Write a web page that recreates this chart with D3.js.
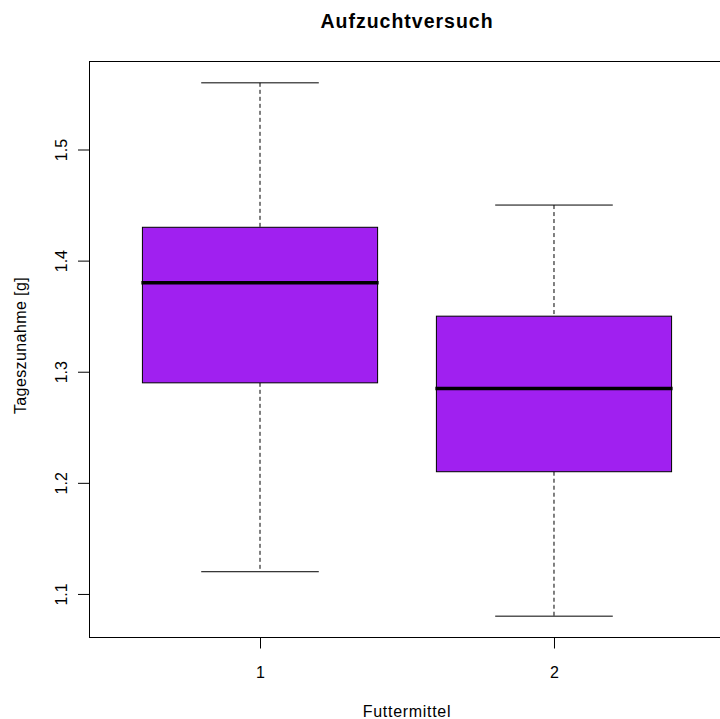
<!DOCTYPE html>
<html>
<head>
<meta charset="utf-8">
<script src="https://cdn.jsdelivr.net/npm/d3@7"></script>
<style>
  html, body { margin: 0; padding: 0; background: #fff; }
  svg { display: block; }
  text { font-family: "Liberation Sans", Arial, Helvetica, sans-serif; fill: #000; }
</style>
</head>
<body>
<svg id="chart" width="720" height="719"></svg>
<script>
// Feed groups and their five-number summaries (whisker low, Q1, median, Q3, whisker high)
const groups   = ["1", "2"];
const whiskLo  = [1.12, 1.08];
const q1       = [1.29, 1.21];
const medians  = [1.38, 1.285];
const q3       = [1.43, 1.35];
const whiskHi  = [1.56, 1.45];
const yTicks   = [1.1, 1.2, 1.3, 1.4, 1.5];

const title  = "Aufzuchtversuch";
const xTitle = "Futtermittel";
const yTitle = "Tageszunahme [g]";

const svg = d3.select("#chart");

// Plot region (the frame runs past the right edge of the page)
const plot = { left: 89.5, right: 724.5, top: 61.5, bottom: 637.5 };

// R-style axis extents: 4% padding on each side
const n = groups.length;
const xLo = 0.5, xHi = n + 0.5;
const xPad = (xHi - xLo) * 0.04;
const x = d3.scaleLinear()
  .domain([xLo - xPad, xHi + xPad])
  .range([plot.left, plot.right]);

const yMin = d3.min(whiskLo), yMax = d3.max(whiskHi);
const yPad = (yMax - yMin) * 0.04;
const y = d3.scaleLinear()
  .domain([yMin - yPad, yMax + yPad])
  .range([plot.bottom, plot.top]);

const boxHalf = 0.4;      // half of box width, in x units
const capHalf = 0.2;      // half of whisker cap width

const data = groups.map((g, i) => ({
  g, pos: i + 1,
  lo: whiskLo[i], q1: q1[i], med: medians[i], q3: q3[i], hi: whiskHi[i]
}));

const boxes = svg.append("g").selectAll("g").data(data).join("g");

// dashed whiskers
boxes.append("line")
  .attr("x1", d => x(d.pos)).attr("x2", d => x(d.pos))
  .attr("y1", d => y(d.hi)).attr("y2", d => y(d.q3))
  .attr("stroke", "#000").attr("stroke-width", 1).attr("stroke-dasharray", "4,3");
boxes.append("line")
  .attr("x1", d => x(d.pos)).attr("x2", d => x(d.pos))
  .attr("y1", d => y(d.q1)).attr("y2", d => y(d.lo))
  .attr("stroke", "#000").attr("stroke-width", 1).attr("stroke-dasharray", "4,3");

// whisker caps
["hi", "lo"].forEach(k => {
  boxes.append("line")
    .attr("x1", d => x(d.pos - capHalf)).attr("x2", d => x(d.pos + capHalf))
    .attr("y1", d => y(d[k])).attr("y2", d => y(d[k]))
    .attr("stroke", "#000").attr("stroke-width", 1);
});

// boxes
boxes.append("rect")
  .attr("x", d => x(d.pos - boxHalf))
  .attr("width", d => x(d.pos + boxHalf) - x(d.pos - boxHalf))
  .attr("y", d => y(d.q3))
  .attr("height", d => y(d.q1) - y(d.q3))
  .attr("fill", "#A020F0")
  .attr("stroke", "#000").attr("stroke-width", 1);

// medians
boxes.append("line")
  .attr("x1", d => x(d.pos - boxHalf) - 1).attr("x2", d => x(d.pos + boxHalf) + 1)
  .attr("y1", d => y(d.med)).attr("y2", d => y(d.med))
  .attr("stroke", "#000").attr("stroke-width", 3.5);

// frame
svg.append("rect")
  .attr("x", plot.left).attr("y", plot.top)
  .attr("width", plot.right - plot.left).attr("height", plot.bottom - plot.top)
  .attr("fill", "none").attr("stroke", "#000").attr("stroke-width", 1);

// y axis (ticks + rotated labels)
const yAxis = d3.axisLeft(y).tickValues(yTicks).tickSize(11.5).tickPadding(10)
  .tickFormat(d3.format(".1f"));
const ya = svg.append("g").attr("transform", `translate(${plot.left},0)`).call(yAxis);
ya.select(".domain").attr("d", `M0,${y(yTicks[0])}V${y(yTicks[yTicks.length - 1])}`)
  .attr("stroke", "#000");
ya.selectAll(".tick line").attr("stroke", "#000");
ya.selectAll(".tick text")
  .attr("x", null).attr("dy", null)
  .attr("transform", "translate(-22.5,0) rotate(-90)")
  .attr("text-anchor", "middle")
  .style("font-size", "16px").style("font-family", "Liberation Sans, Arial, sans-serif");

// x axis
const xAxis = d3.axisBottom(x).tickValues(data.map(d => d.pos)).tickSize(11)
  .tickFormat((d, i) => groups[i]);
const xa = svg.append("g").attr("transform", `translate(0,${plot.bottom})`).call(xAxis);
xa.select(".domain").attr("d", `M${x(1)},0H${x(n)}`).attr("stroke", "#000");
xa.selectAll(".tick line").attr("stroke", "#000");
xa.selectAll(".tick text")
  .attr("y", 40).attr("dy", null)
  .style("font-size", "16px").style("font-family", "Liberation Sans, Arial, sans-serif");

// titles
const cx = (plot.left + plot.right) / 2;
svg.append("text").attr("x", cx).attr("y", 28)
  .attr("text-anchor", "middle")
  .style("font-size", "19.5px").style("font-weight", "bold")
  .style("letter-spacing", "1px")
  .text(title);
svg.append("text").attr("x", cx).attr("y", 716.5)
  .attr("text-anchor", "middle").style("font-size", "16px")
  .style("letter-spacing", "0.7px")
  .text(xTitle);
svg.append("text")
  .attr("transform", `translate(26,${(plot.top + plot.bottom) / 2 - 4}) rotate(-90)`)
  .attr("text-anchor", "middle").style("font-size", "16px")
  .style("letter-spacing", "0.4px")
  .text(yTitle);
</script>
</body>
</html>
